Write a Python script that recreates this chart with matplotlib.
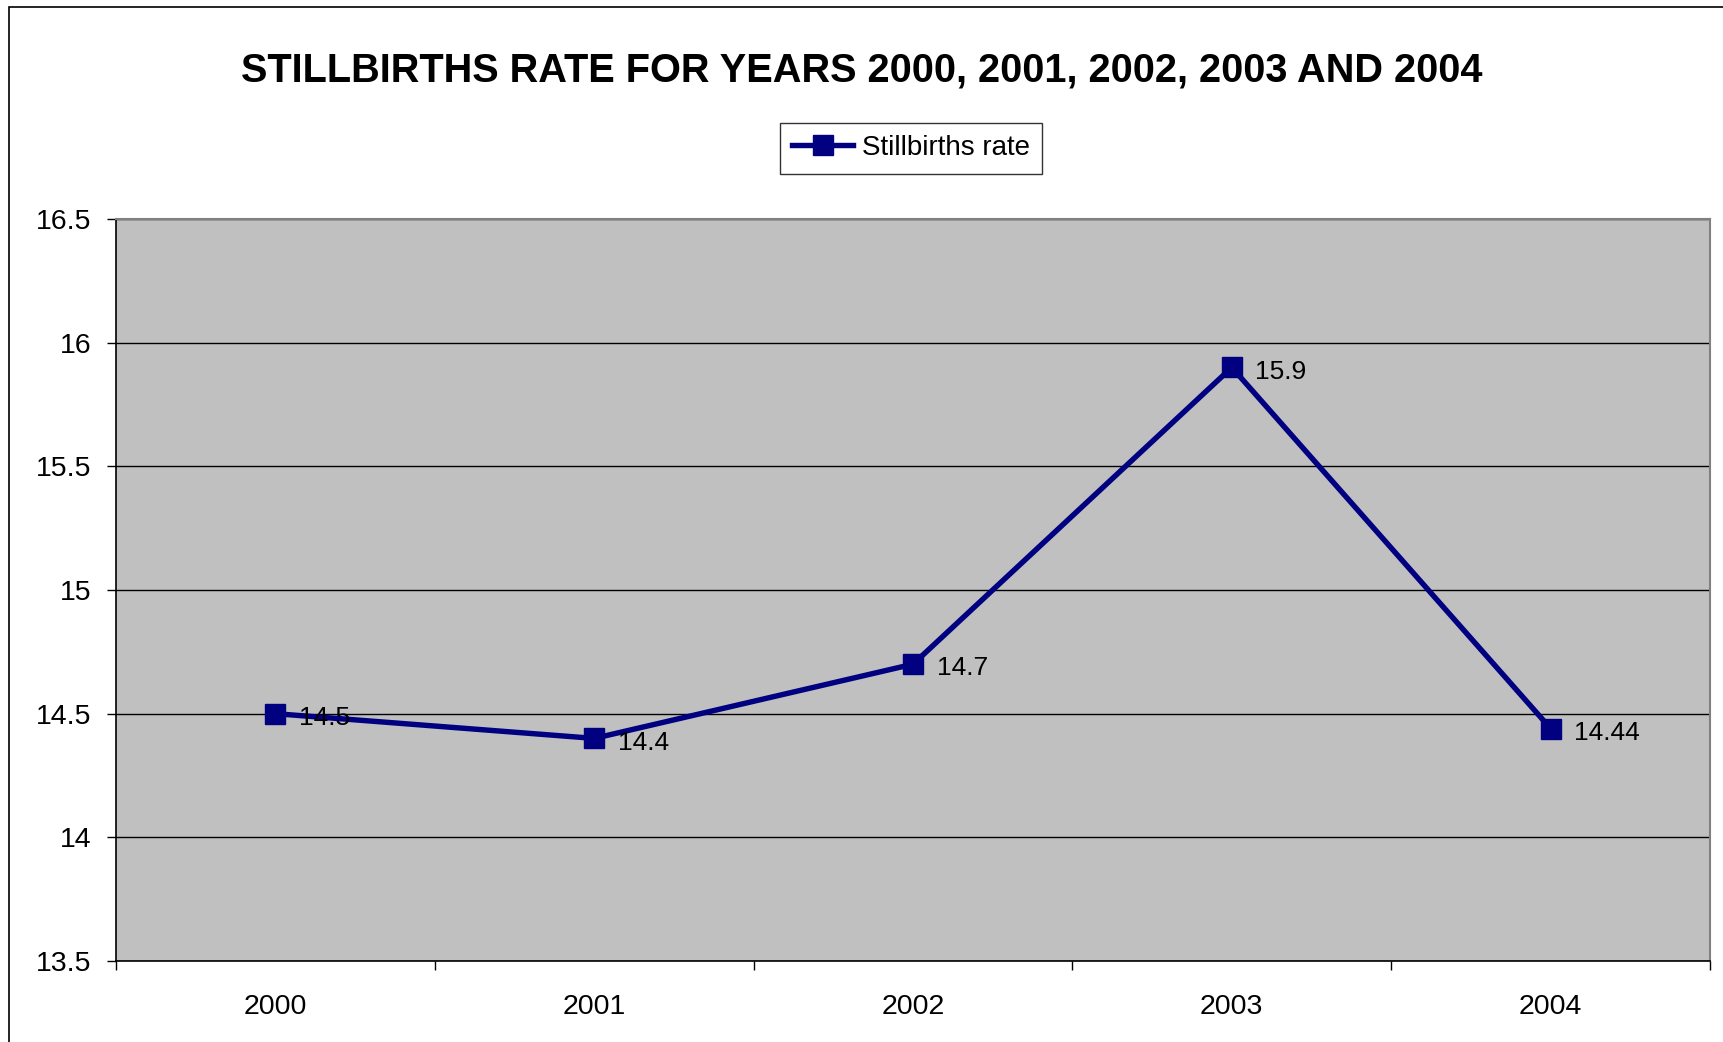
import matplotlib.pyplot as plt
from matplotlib.ticker import FixedLocator
from matplotlib.patches import Rectangle

plt.rcParams['font.family'] = ['Liberation Sans', 'DejaVu Sans']

# data
years = ['2000', '2001', '2002', '2003', '2004']
rate = [14.5, 14.4, 14.7, 15.9, 14.44]
rate_labels = ['14.5', '14.4', '14.7', '15.9', '14.44']
y_ticks = [13.5, 14, 14.5, 15, 15.5, 16, 16.5]
y_tick_labels = ['13.5', '14', '14.5', '15', '15.5', '16', '16.5']

navy = '#000080'

fig = plt.figure(figsize=(17.24, 10.42), dpi=100)
ax = fig.add_axes([116 / 1724, 1 - 961 / 1042, (1710 - 116) / 1724, (961 - 219) / 1042])
ax.set_facecolor('#C0C0C0')

# outer chart border (only left and top show in the picture)
fig.patches.append(Rectangle((9 / 1724, -0.1), 1.2, 1 - 7 / 1042 + 0.1,
                             transform=fig.transFigure, fill=False,
                             edgecolor='black', linewidth=1.2))

x = list(range(len(years)))
ax.plot(x, rate, color=navy, linewidth=3.9, marker='s', markersize=15,
        label='Stillbirths rate', zorder=3)

for xi, yi, lab in zip(x, rate, rate_labels):
    ax.annotate(lab, (xi, yi), xytext=(17, -3), textcoords='offset points',
                ha='left', va='center', fontsize=19, color='black', zorder=4)

ax.set_xlim(-0.5, 4.5)
ax.set_ylim(13.5, 16.5)
ax.set_yticks(y_ticks)
ax.set_yticklabels(y_tick_labels)
ax.set_xticks(x)
ax.set_xticklabels(years)
ax.xaxis.set_minor_locator(FixedLocator([-0.5, 0.5, 1.5, 2.5, 3.5, 4.5]))

ax.tick_params(axis='y', which='major', length=6.5, width=1, pad=11,
               labelsize=20.5, color='black')
ax.tick_params(axis='x', which='major', length=0, pad=24, labelsize=20.5)
ax.tick_params(axis='x', which='minor', length=6.5, width=1, color='black')

ax.grid(axis='y', color='black', linewidth=1, zorder=1)
ax.set_axisbelow(True)

for side in ['top', 'right']:
    ax.spines[side].set_color('#808080')
    ax.spines[side].set_linewidth(1.5)
for side in ['left', 'bottom']:
    ax.spines[side].set_color('black')
    ax.spines[side].set_linewidth(1.2)

fig.text(0.5, 1 - 70 / 1042, 'STILLBIRTHS RATE FOR YEARS 2000, 2001, 2002, 2003 AND 2004',
         ha='center', va='center', fontsize=28.6, fontweight='bold')

leg = fig.legend(loc='center', bbox_to_anchor=(911 / 1724, 1 - 148 / 1042),
                 fontsize=20, frameon=True, fancybox=False, edgecolor='black',
                 handlelength=2.2, borderpad=0.45, handletextpad=0.3,
                 borderaxespad=0)
leg.get_frame().set_linewidth(1)

fig.savefig('out.png', dpi=100)
